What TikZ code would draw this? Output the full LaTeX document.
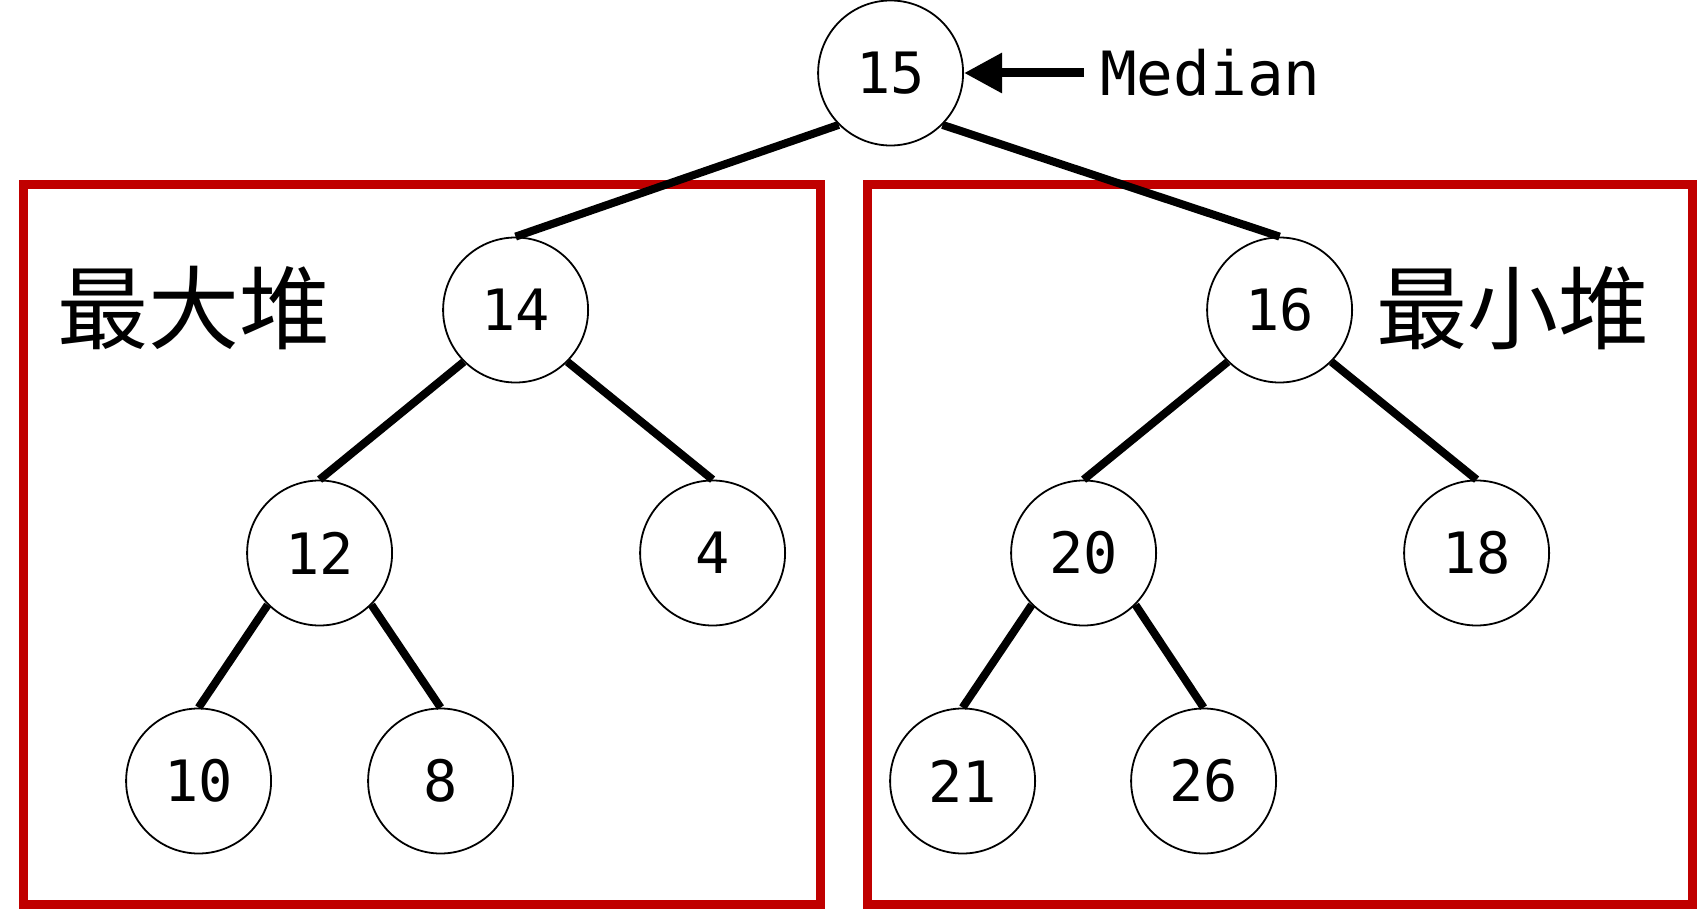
\documentclass[tikz,border=0pt]{standalone}
\usepackage{fontspec}
\setmonofont{DejaVu Sans Mono}
\newfontfamily\cjkfont{Noto Sans CJK SC}
\usetikzlibrary{arrows.meta,positioning}
\definecolor{HeapRed}{HTML}{C00000}

\begin{document}
\begin{tikzpicture}[
  x=1pt, y=-1pt,
  on grid,
  heapnode/.style={circle, draw=black, line width=1.8pt, fill=white, minimum size=145pt,
    inner sep=0pt, font=\fontsize{57}{60}\selectfont\ttfamily},
  heapbox/.style={draw=HeapRed, line width=9pt},
  heaplabel/.style={inner sep=0pt, font=\fontsize{91}{96}\selectfont\cjkfont},
  link/.style={line width=8pt, draw=black},
  arr/.style={-{Triangle[length=38pt, width=38pt]}, line width=9pt, draw=black}
]
\useasboundingbox (0,0) rectangle (1705,909);
\draw[heapbox] (23.5,185) rectangle (820,904);
\draw[heapbox] (867,185) rectangle (1692,904);
\node[heapnode] (n15) at (890.6,73) {15};
\node[heapnode, below left=237pt and 375pt of n15] (n14) {14};
\node[heapnode, below right=237pt and 389pt of n15] (n16) {16};
\node[heapnode, below left=243pt and 196pt of n14] (n12) {12};
\node[heapnode, below right=243pt and 197pt of n14] (n4) {4};
\node[heapnode, below left=228pt and 121pt of n12] (n10) {10};
\node[heapnode, below right=228pt and 121pt of n12] (n8) {8};
\node[heapnode, below left=243pt and 196pt of n16] (n20) {20};
\node[heapnode, below right=243pt and 197pt of n16] (n18) {18};
\node[heapnode, below left=228pt and 121pt of n20] (n21) {21};
\node[heapnode, below right=228pt and 120pt of n20] (n26) {26};
\node[heaplabel] (maxlabel) at (194,308) {最大堆};
\node[heaplabel] (minlabel) at (1513,308) {最小堆};
\node[anchor=west, inner xsep=16pt, inner ysep=0pt,
  font=\fontsize{61}{64}\selectfont\ttfamily] (median) at (1084,73) {Median};
\draw[link] (n15.south west) -- (n14.north);
\draw[link] (n15.south east) -- (n16.north);
\draw[link] (n14.south west) -- (n12.north);
\draw[link] (n14.south east) -- (n4.north);
\draw[link] (n12.south west) -- (n10.north);
\draw[link] (n12.south east) -- (n8.north);
\draw[link] (n16.south west) -- (n20.north);
\draw[link] (n16.south east) -- (n18.north);
\draw[link] (n20.south west) -- (n21.north);
\draw[link] (n20.south east) -- (n26.north);
\draw[arr] (median.west) -- (n15.east);
\end{tikzpicture}
\end{document}
